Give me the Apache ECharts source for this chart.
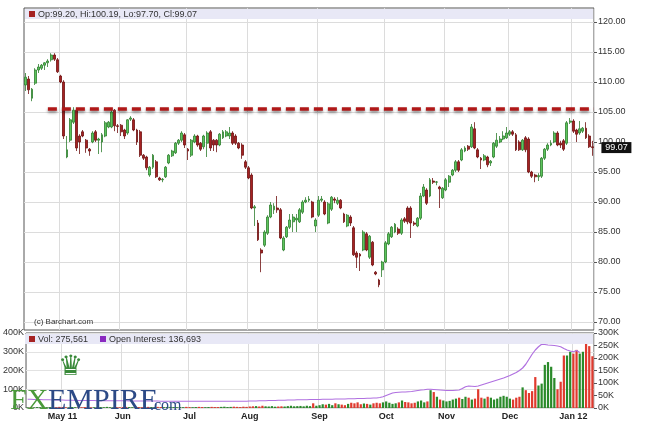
<!DOCTYPE html>
<html><head><meta charset="utf-8">
<script src="https://cdn.jsdelivr.net/npm/echarts@6/dist/echarts.min.js"></script>
<style>html,body{margin:0;padding:0;background:#fff}#c{width:645px;height:427px}</style>
</head><body><div id="c"></div>
<script>
// OHLC: [open, close, low, high]
const ohlc = [
[109.5,110.8,108.5,111.5],[110.5,108.7,108,111],[107.3,108.8,106.8,109],[109.8,112,109.5,112.3],[112,112.5,111.5,113],
[112.3,112.8,112,113],[112.8,113.2,112,113.3],[113.2,113.5,112.5,113.8],[113.7,114.5,113.4,114.8],[114.5,113.8,113.5,114.8],
[113.7,111.7,111.5,114],[111,110,109.8,111.2],[110,101,100.5,110.3],[97.5,98.7,97.3,101],[100.3,103.7,100,104],
[103.3,105.3,103,105.8],[105.3,99,98.5,105.5],[101,100,98,101.3],[101.7,101,100.8,102],[100.3,99,98.2,100.5],
[98.8,98.5,97.7,99],[100,101.5,99.8,101.8],[101.7,100.3,100,102],[100.3,100.5,98,100.7],[100,101.2,98.3,101.5],
[101,103.2,100.8,103.5],[102.5,103.3,102.3,103.5],[102.5,105,102.3,105.3],[105.3,102.7,101.8,105.5],[102.7,102.6,101.5,103],
[102.8,101.7,101,103],[102,101,100.5,102.2],[101.5,103.7,101.2,103.8],[103.8,104,103.5,104.3],[103.7,102,101.8,104],
[102,100,99.5,102.2],[101.7,97.8,97.5,102],[97.8,97.3,97,98],[97.5,95.7,95.3,97.7],[94.5,95.8,94.2,96],
[95.8,97.8,95.5,98],[96.7,94.2,94,97],[94,93.7,93.5,94.2],[93.7,93.8,93.3,94],[94.2,95.8,94,96],
[96.5,97.8,96.3,98],[97.7,98.5,97.5,98.7],[98.2,99.8,98,100],[99.8,100.3,99.5,100.5],[100.3,101.5,100,101.8],
[101.2,99.5,99,101.5],[98.8,98.5,97,99],[97.8,100.3,97.5,100.5],[100,101,99.8,101.3],[101,99.5,99.2,101.2],
[99.8,98.8,98.5,100],[99.2,101,98.8,101.2],[99.8,101.5,97.5,101.8],[101.7,99,98.5,102],[100.3,99.5,98.5,100.5],
[100.3,99.5,98.3,100.5],[99.5,101.3,99.3,101.5],[100.7,101.7,100.5,102],[101,101.7,100.8,102],[101,101.5,100.5,102.5],
[101.5,99.8,99.5,101.8],[101,99.8,99.5,101.3],[99.8,99,98.8,100],[99.5,97.8,97.2,99.8],[96.7,95.8,95.5,97],
[95.7,94,93.8,96],[94.5,89,88.8,94.8],[89,89.2,86,89.5],[86.5,83.7,83.5,87],[82,81.5,78.3,82.3],
[82.8,85,82.5,85.3],[84.8,87.5,84.5,87.8],[87.5,89.5,87.3,90],[88.7,89.3,88,89.8],[89,88.7,88.2,91],
[88.7,84,83.8,89],[82,84,81.8,84.3],[84.2,85.8,84,86],[85.8,87,85.5,88],[86.7,87.5,85,88],
[87,87.3,85,88],[86.7,88.7,86.5,89],[88.3,90,88,90.3],[90,90.3,89.8,90.8],[90.3,90.5,90,91],
[90,87.5,87.3,90.2],[86,87,85,87.3],[87.8,90.3,87.5,91],[90.3,90.5,90,91],[90,88,87.8,90.3],
[86.5,89.7,86.3,90],[88.8,90.8,88.5,91],[90.5,90.3,89.8,90.8],[89.8,90.3,89.5,90.8],[90.3,89,88.8,90.5],
[88,86.7,86.5,88.2],[86,87.8,85.8,88],[87.5,86.5,86,87.8],[85.7,81.2,81,86],[81.5,80.8,79,81.8],
[81.3,81,78.5,81.5],[82,85,81.8,85.3],[84.7,82,81.8,85],[80.8,84.3,80.5,84.5],[83.3,79.5,79.3,83.5],
[78.3,78,77.8,78.5],[77,76.2,75.8,77.2],[78.7,80,77.5,80.2],[80,83.2,79.8,83.5],[83,84.7,82.8,85],
[84.2,85.8,84,86],[85,86.3,84.8,86.5],[85.5,84.8,84.5,85.8],[84.8,87,84.5,87.3],[87.2,86.8,86.5,87.5],
[89,86.7,86.3,89.3],[89,86.5,84,89.3],[86.5,86.3,86,86.8],[86,87.3,85.8,87.5],[87.3,91,87,91.5],
[91,92.5,90.8,93],[92,89.8,89.5,92.3],[91,93.7,90.8,94],[93.5,93.3,93,94],[93.3,93.35,92.8,93.5],
[92.5,92.2,89,92.7],[90.7,92.3,90.5,92.5],[92,93.7,91.8,94],[93.3,94.3,92.5,94.5],[94.5,95.3,94.3,95.5],
[95.3,96.7,95,97],[96.7,95.3,95,97],[97,98.7,96.8,99],[98.5,99,98.3,99.3],[99.3,98.8,98.5,99.5],
[99.2,102.5,99,103],[102.2,99,98.8,103.3],[98.7,97.5,97.3,99],[97.3,97,95.5,97.5],[97,97.7,96.8,98],
[97.5,96.2,95.8,97.7],[96.5,96.8,96,97],[97.5,99.8,97.3,100],[99.3,100.3,99,101.5],[100,100.5,99.8,101],
[100.5,101,100.3,101.8],[100.7,101.5,100.5,102.5],[101.3,101.7,101,102],[101.7,101.3,101,102],[101.2,98.7,98.5,101.5],
[100,98.7,98.5,100.3],[98.7,100.3,98.5,100.5],[100.7,98.7,98.3,101],[100.5,95,94.8,100.8],[95,94.3,94,95.2],
[94.5,94.2,93.3,94.7],[94.2,94.4,93.5,94.8],[94.3,97.3,94,97.5],[97.3,98.8,97,99],[98.8,99.5,98.5,99.8],
[99.5,99.8,99.3,100.3],[100,101.5,99.8,101.8],[101.5,99.5,99.3,101.8],[99.8,99.5,99,100.2],[100.2,98.8,98.5,100.5],
[99.8,103.2,99.5,103.5],[103.3,103.5,103,104],[103.5,101.8,101.5,103.8],[102,101.3,100,102.2],[101.5,102.2,101.2,103.5],
[101.8,102.3,101.5,102.5],[102.3,100.7,100.5,103.3],[101,99.2,99,101.3],[99.20,99.07,97.70,100.19]
];
// volume in thousands
const volume = [
3,4,3,5,4,3,4,5,3,4,6,5,4,3,5,4,3,4,5,4,3,4,3,5,4,6,4,3,5,4,
5,6,5,4,6,5,4,5,6,5,4,6,5,4,5,6,5,4,5,4,6,5,4,5,6,5,4,5,6,5,
5,6,7,5,6,7,6,5,7,6,8,9,10,8,12,9,8,10,7,8,9,8,10,12,9,10,11,9,12,10,
25,12,15,20,18,22,15,25,20,18,15,22,28,25,30,20,24,22,18,25,28,25,30,35,28,22,25,30,40,32,
30,25,28,35,40,30,35,95,85,60,45,40,35,38,45,50,55,48,60,55,45,50,100,55,50,60,55,45,50,60,
65,60,50,45,55,60,110,95,80,90,165,120,130,230,245,220,160,100,140,280,280,300,290,310,290,300,370,330,276
];
// open interest in thousands
const openInterest = [
35,35,34,34,34,33,33,33,32,32,32,32,31,31,31,31,30,30,30,30,30,30,29,29,29,29,29,29,29,29,
29,29,28,28,28,28,28,28,28,28,28,28,27,27,27,27,27,27,27,27,27,27,27,27,27,27,27,27,27,27,
27,27,27,27,27,27,27,27,27,27,28,28,28,29,29,29,30,30,30,31,31,31,32,32,32,33,33,33,33,34,
34,34,34,35,35,35,35,36,36,36,36,37,37,37,38,38,38,39,39,40,40,42,45,50,55,60,62,63,64,64,
65,66,68,70,72,73,75,75,74,73,72,71,70,70,70,71,72,78,85,88,87,86,88,92,96,100,104,108,112,116,
120,125,130,136,142,150,160,175,195,215,232,245,255,254,252,251,250,248,245,238,232,228,225,230,222
];
const monthLabels = {11:'May 11',30:'Jun',51:'Jul',70:'Aug',92:'Sep',113:'Oct',132:'Nov',152:'Dec',172:'Jan 12'};
const resistance = 105.6;
const lastPrice = 99.07;

const cats = ohlc.map((d,i)=>String(i));
const isMonth = (i)=> monthLabels[i] !== undefined;
const up = (d)=> d[1] >= d[0];

const chart = echarts.init(document.getElementById('c'), null, {renderer:'canvas'});
const gridL = 24, gridR = 51;
const xBase = {type:'category', data:cats, boundaryGap:true,
  axisLine:{show:false}, axisTick:{show:false}, axisLabel:{show:false},
  splitLine:{show:true, interval:(i)=>isMonth(i), lineStyle:{color:'#dcdcdc'}}};
chart.setOption({
  animation:false,
  grid:[
    {left:gridL, right:gridR, top:8, height:322, show:true, borderColor:'#555', borderWidth:1, backgroundColor:'#fff'},
    {left:gridL, right:gridR, top:22, height:300},
    {left:gridL, right:gridR, top:333, height:75, show:true, borderColor:'#555', borderWidth:1}
  ],
  xAxis:[
    Object.assign({}, xBase, {gridIndex:0}),
    Object.assign({}, xBase, {gridIndex:1, splitLine:{show:false}}),
    Object.assign({}, xBase, {gridIndex:2, axisLabel:{show:true, interval:(i)=>isMonth(i),
      formatter:(v)=>monthLabels[+v]||'', fontSize:9, fontWeight:'bold', color:'#222', margin:4, fontFamily:'Arial'}})
  ],
  yAxis:[
    {gridIndex:0, type:'value', show:false, min:0, max:1},
    {gridIndex:1, type:'value', position:'right', min:70, max:120, interval:5,
      axisLine:{show:false}, axisTick:{show:true, length:3, lineStyle:{color:'#555'}},
      axisLabel:{formatter:(v)=>v.toFixed(2), fontSize:9, color:'#333', margin:4, fontFamily:'Arial'},
      splitLine:{show:true, lineStyle:{color:'#dcdcdc'}}},
    {gridIndex:2, type:'value', position:'left', min:0, max:400, interval:100,
      axisLine:{show:false}, axisTick:{show:false},
      axisLabel:{formatter:(v)=>v+'K', fontSize:9, color:'#333', margin:2, fontFamily:'Arial'},
      splitLine:{show:true, lineStyle:{color:'#e2e2e2'}}},
    {gridIndex:2, type:'value', position:'right', min:0, max:300, interval:50,
      axisLine:{show:false}, axisTick:{show:true, length:3},
      axisLabel:{formatter:(v)=>v+'K', fontSize:9, color:'#333', margin:4, fontFamily:'Arial'},
      splitLine:{show:false}}
  ],
  series:[
    {type:'candlestick', xAxisIndex:1, yAxisIndex:1, barWidth:'75%',
     data:ohlc.map(d=>[d[0],d[1],d[2],d[3]]),
     itemStyle:{color:'#5cc55c', color0:'#a52222', borderColor:'#2e7d2e', borderColor0:'#6e1010', borderWidth:0.8},
     markLine:{symbol:'none', silent:true, data:[
       [{coord:['7',resistance], lineStyle:{color:'#b01818', width:3.5, type:[9,5], shadowBlur:3, shadowColor:'rgba(0,0,0,0.45)', shadowOffsetY:2}, label:{show:false}},
        {coord:[String(ohlc.length-1),resistance], x:645-gridR}]
     ]},
     markPoint:{silent:true, data:[
       {coord:[String(ohlc.length-1), lastPrice], symbol:'rect', symbolSize:[30,11], symbolOffset:[24,0],
        itemStyle:{color:'#111'},
        label:{show:true, position:'inside', formatter:lastPrice.toFixed(2), color:'#fff', fontSize:9, fontFamily:'Arial'}}
     ]}},
    {type:'bar', xAxisIndex:2, yAxisIndex:2, barWidth:'70%',
     data:volume.map((v,i)=>({value:v, itemStyle:{color: up(ohlc[i]) ? '#2a8a2a' : '#e03a2e'}}))},
    {type:'line', xAxisIndex:2, yAxisIndex:3, data:openInterest, symbol:'none',
     lineStyle:{color:'#b070e0', width:1.2}}
  ],
  graphic:[
    {type:'rect', shape:{x:25,y:9,width:645-gridR-26,height:10}, style:{fill:'#e8e8f6'}, z:50},
    {type:'rect', shape:{x:29,y:11,width:6,height:6}, style:{fill:'#a52222'}, z:51},
    {type:'text', x:38, y:10, style:{text:'Op:99.20, Hi:100.19, Lo:97.70, Cl:99.07', fontSize:9, fill:'#333', fontFamily:'Arial'}, z:51},
    {type:'text', x:34, y:318, style:{text:'(c) Barchart.com', fontSize:8, fill:'#333', fontFamily:'Arial'}, z:51},
    {type:'rect', shape:{x:25,y:334,width:645-gridR-26,height:10}, style:{fill:'#e8e8f6'}, z:50},
    {type:'rect', shape:{x:29,y:336,width:6,height:6}, style:{fill:'#a52222'}, z:51},
    {type:'text', x:38, y:335, style:{text:'Vol: 275,561', fontSize:9, fill:'#333', fontFamily:'Arial'}, z:51},
    {type:'rect', shape:{x:100,y:336,width:6,height:6}, style:{fill:'#8a2ac0'}, z:51},
    {type:'text', x:109, y:335, style:{text:'Open Interest: 136,693', fontSize:9, fill:'#333', fontFamily:'Arial'}, z:51},
    {type:'text', x:10, y:386, style:{text:'FX', fontSize:30, fill:'#4a9a3a', fontFamily:'Liberation Serif'}, z:52},
    {type:'text', x:48, y:386, style:{text:'EMPIRE', fontSize:30, fill:'#2c4a86', fontFamily:'Liberation Serif'}, z:52},
    {type:'text', x:150, y:398, style:{text:'.com', fontSize:16, fill:'#2c4a86', fontFamily:'Liberation Serif'}, z:52},
    {type:'text', x:58, y:354, style:{text:'♛', fontSize:28, fill:'#3a8a3a', fontFamily:'DejaVu Sans'}, z:52}
  ]
});
</script></body></html>
